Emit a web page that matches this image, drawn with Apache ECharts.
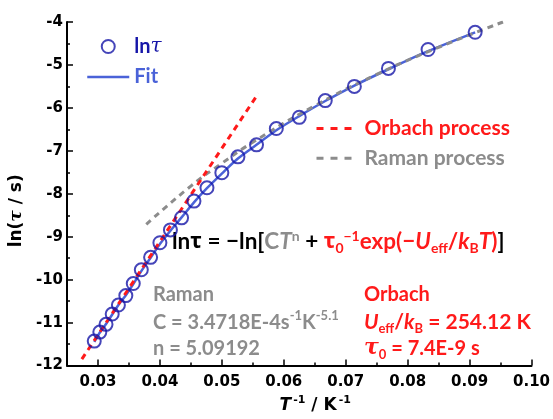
<!DOCTYPE html>
<html>
<head>
<meta charset="utf-8">
<script src="https://cdn.jsdelivr.net/npm/echarts@6/dist/echarts.min.js"></script>
<style>
  html, body { margin: 0; padding: 0; background: #fff; }
  #chart { width: 553px; height: 419px; }
</style>
</head>
<body>
<div id="chart"></div>
<script>
// Relaxation data: inverse temperature (1/K) and ln(tau / s)
const invT = [0.0294, 0.0303, 0.0313, 0.0323, 0.0333, 0.0345, 0.0357, 0.0370,
              0.0385, 0.0400, 0.0417, 0.0435, 0.0455, 0.0476, 0.0500, 0.0526,
              0.0556, 0.0588, 0.0625, 0.0667, 0.0714, 0.0769, 0.0833, 0.0909];
const lnTau = [-11.43, -11.22, -11.04, -10.80, -10.59, -10.37, -10.09, -9.77,
               -9.48, -9.14, -8.84, -8.56, -8.17, -7.86, -7.51, -7.14,
               -6.86, -6.48, -6.22, -5.83, -5.50, -5.08, -4.64, -4.24];
// Fitted curve (Raman + Orbach) at the same inverse temperatures
const fitLnTau = [-11.45, -11.23, -11.03, -10.81, -10.59, -10.36, -10.10, -9.80,
                  -9.49, -9.17, -8.86, -8.55, -8.20, -7.87, -7.53, -7.18,
                  -6.86, -6.52, -6.19, -5.84, -5.48, -5.10, -4.68, -4.24];
// Orbach contribution (straight line in ln(tau) vs 1/T)
const orbachX = [0.0274, 0.0559];
const orbachY = [-11.85, -5.66];
// Raman contribution
const ramanX = [0.0378, 0.0450, 0.0498, 0.0550, 0.0650, 0.0750, 0.0850, 0.0954];
const ramanY = [-8.71, -7.82, -7.31, -6.80, -5.95, -5.22, -4.59, -4.00];
// Axis ticks
const xMajorTicks = [0.03, 0.04, 0.05, 0.06, 0.07, 0.08, 0.09, 0.10];
const xRange = [0.025, 0.10];
const yRange = [-12, -4];

const pairs = (xs, ys) => xs.map((x, i) => [x, ys[i]]);

const DARK_BLUE = '#1616a8';
const FIT_BLUE = '#4a62d8';
const RED = '#ff1a1a';
const GRAY = '#8c8c8c';
const CLEAR = 'rgba(0,0,0,0)';
const TICK_FONT = 'DejaVu Sans';
const NOTE_FONT = 'Lato';
const GREEK_FONT = 'Noto Sans';
const SERIF = 'DejaVu Serif';

const chart = echarts.init(document.getElementById('chart'), null, { renderer: 'canvas' });

const tickLabelStyle = {
  color: '#000', fontFamily: TICK_FONT, fontWeight: 'bold', fontSize: 15
};

function sup(fill, size) {
  return { fill: fill, fontFamily: NOTE_FONT, fontWeight: 'bold', fontSize: size || 13, lineHeight: 14, verticalAlign: 'top' };
}
function sub(fill, size) {
  return { fill: fill, fontFamily: NOTE_FONT, fontWeight: 'bold', fontSize: size || 13, lineHeight: 14, verticalAlign: 'bottom' };
}
function base(fill, extra) {
  return Object.assign({ fill: fill, fontFamily: NOTE_FONT, fontWeight: 'bold', fontSize: 20, lineHeight: 26 }, extra || {});
}
// line-only legend entries: hide the marker that line series put in their legend icon
const lineOnly = name => ({ name: name, itemStyle: { color: CLEAR, borderColor: CLEAR, borderWidth: 0 } });

const option = {
  animation: false,
  backgroundColor: '#fff',
  grid: { left: 55.5, right: 20.7, top: 22, bottom: 47.3, containLabel: false },
  xAxis: [
    {
      type: 'value', min: xRange[0], max: xRange[1], interval: 0.005,
      axisLine: { show: true, lineStyle: { color: '#000', width: 2 } },
      axisTick: { show: true, inside: true, length: 3, lineStyle: { color: '#000', width: 1.5 } },
      axisLabel: {
        ...tickLabelStyle, margin: 9,
        formatter: v => (Math.abs(v * 100 - Math.round(v * 100)) < 1e-6 ? v.toFixed(2) : '')
      },
      splitLine: { show: false },
      name: '{t|T}{s|-1}{a| / K}{s|-1}',
      nameLocation: 'middle', nameGap: 27,
      nameTextStyle: {
        padding: [0, 0, 0, 32],
        rich: {
          t: { fontFamily: TICK_FONT, fontWeight: 'bold', fontStyle: 'italic', fontSize: 17, color: '#000', lineHeight: 22 },
          a: { fontFamily: TICK_FONT, fontWeight: 'bold', fontSize: 17, color: '#000', lineHeight: 22 },
          s: { fontFamily: TICK_FONT, fontWeight: 'bold', fontSize: 11, color: '#000', lineHeight: 12, verticalAlign: 'top', padding: [0, 0, 0, 2] }
        }
      }
    },
    {
      type: 'value', min: xRange[0], max: xRange[1], position: 'bottom',
      axisLine: { show: false },
      axisLabel: { show: false },
      axisTick: { show: true, inside: true, length: 6, customValues: xMajorTicks, lineStyle: { color: '#000', width: 1.5 } },
      splitLine: { show: false }
    }
  ],
  yAxis: {
    type: 'value', min: yRange[0], max: yRange[1], interval: 1,
    axisLine: { show: true, lineStyle: { color: '#000', width: 2 } },
    axisTick: { show: true, inside: true, length: 6, lineStyle: { color: '#000', width: 1.5 } },
    minorTick: { show: true, splitNumber: 2, length: 3, lineStyle: { color: '#000', width: 1.5 } },
    axisLabel: { ...tickLabelStyle, margin: 4 },
    splitLine: { show: false },
    name: '{a|ln(}{t|τ}{a| / s)}',
    nameLocation: 'middle', nameRotate: 90, nameGap: 28,
    nameTextStyle: {
      padding: [0, 34, 0, 0],
      rich: {
        a: { fontFamily: TICK_FONT, fontWeight: 'bold', fontSize: 17, color: '#000' },
        t: { fontFamily: SERIF, fontStyle: 'italic', fontWeight: 'bold', fontSize: 17, color: '#000' }
      }
    }
  },
  legend: [
    {
      orient: 'vertical', left: 86, top: 36.5, padding: 0,
      itemWidth: 42, itemHeight: 13, itemGap: 10.5,
      selectedMode: false,
      data: ['lnτ', lineOnly('Fit')],
      lineStyle: { width: 2.5 },
      itemStyle: { borderWidth: 2 },
      formatter: n => (n === 'lnτ' ? '{b|ln}{t|τ}' : '{f|Fit}'),
      textStyle: {
        rich: {
          b: { fontFamily: NOTE_FONT, fontWeight: 'bold', fontSize: 20, color: DARK_BLUE, lineHeight: 20 },
          t: { fontFamily: SERIF, fontStyle: 'italic', fontSize: 20, color: DARK_BLUE, lineHeight: 20 },
          f: { fontFamily: NOTE_FONT, fontWeight: 'bold', fontSize: 20, color: FIT_BLUE, lineHeight: 20 }
        }
      }
    },
    {
      orient: 'vertical', left: 315, top: 118, padding: 0,
      itemWidth: 35, itemHeight: 12, itemGap: 8.7,
      selectedMode: false,
      data: [lineOnly('Orbach process'), lineOnly('Raman process')],
      lineStyle: { width: 3, type: [7, 7] },
      formatter: n => (n === 'Orbach process' ? '{o|' + n + '}' : '{r|' + n + '}'),
      textStyle: {
        rich: {
          o: { fontFamily: NOTE_FONT, fontWeight: 'bold', fontSize: 21, color: RED, lineHeight: 20, padding: [0, 0, 0, 8] },
          r: { fontFamily: NOTE_FONT, fontWeight: 'bold', fontSize: 21, color: GRAY, lineHeight: 20, padding: [0, 0, 0, 8] }
        }
      }
    }
  ],
  series: [
    {
      name: 'Fit', type: 'line', data: pairs(invT, fitLnTau),
      showSymbol: false, symbol: 'none', smooth: 0.3, z: 2,
      lineStyle: { color: FIT_BLUE, width: 2.5 },
      itemStyle: { color: FIT_BLUE }
    },
    {
      name: 'Raman process', type: 'line', data: pairs(ramanX, ramanY),
      showSymbol: false, symbol: 'none', smooth: true, z: 3,
      lineStyle: { color: GRAY, width: 3, type: [6, 5] },
      itemStyle: { color: GRAY }
    },
    {
      name: 'Orbach process', type: 'line', data: pairs(orbachX, orbachY),
      showSymbol: false, symbol: 'none', z: 4,
      lineStyle: { color: RED, width: 3, type: [6, 5] },
      itemStyle: { color: RED }
    },
    {
      name: 'lnτ', type: 'scatter', data: pairs(invT, lnTau),
      symbol: 'circle', symbolSize: 13, z: 5,
      itemStyle: { color: CLEAR, borderColor: DARK_BLUE, borderWidth: 2 }
    }
  ],
  graphic: [
    {
      type: 'text', x: 172, y: 242, silent: true,
      style: {
        textVerticalAlign: 'middle', verticalAlign: 'middle',
        text: '{k|ln}{kg|τ}{k| = −ln[}{g|C}{gi|T}{gs|n}{k| + }{rg|τ}{rsub|0}{rsup|−1}{r|exp(−}{ri|U}{rsub|eff}{r|/}{ri|k}{rsub|B}{ri|T}{r|)}{k|]}',
        rich: {
          k: base('#000', { fontSize: 22.5 }),
          kg: base('#000', { fontFamily: GREEK_FONT, fontSize: 21.5 }),
          g: base(GRAY, { fontSize: 22.5 }),
          gi: base(GRAY, { fontStyle: 'italic', fontSize: 22.5 }),
          gs: sup(GRAY, 14),
          r: base(RED, { fontSize: 22.5 }),
          rg: base(RED, { fontFamily: GREEK_FONT, fontSize: 21.5 }),
          ri: base(RED, { fontStyle: 'italic', fontSize: 22.5 }),
          rsub: sub(RED, 14),
          rsup: sup(RED, 14)
        }
      }
    },
    // Raman parameters
    { type: 'text', x: 153, y: 295, silent: true,
      style: { text: '{g|Raman}', textVerticalAlign: 'middle', verticalAlign: 'middle', rich: { g: base(GRAY) } } },
    { type: 'text', x: 153, y: 322.5, silent: true,
      style: { text: '{g|C = 3.4718E-4s}{s|-1}{g|K}{s|-5.1}', textVerticalAlign: 'middle', verticalAlign: 'middle',
               rich: { g: base(GRAY), s: sup(GRAY) } } },
    { type: 'text', x: 153, y: 348.5, silent: true,
      style: { text: '{g|n = 5.09192}', textVerticalAlign: 'middle', verticalAlign: 'middle', rich: { g: base(GRAY) } } },
    // Orbach parameters
    { type: 'text', x: 364, y: 295, silent: true,
      style: { text: '{r|Orbach}', textVerticalAlign: 'middle', verticalAlign: 'middle', rich: { r: base(RED) } } },
    { type: 'text', x: 364, y: 322.5, silent: true,
      style: { text: '{ri|U}{s|eff}{r|/}{ri|k}{s|B}{r| = 254.12 K}', textVerticalAlign: 'middle', verticalAlign: 'middle',
               rich: { r: base(RED, { fontSize: 21 }), ri: base(RED, { fontStyle: 'italic', fontSize: 21 }), s: sub(RED) } } },
    { type: 'text', x: 364, y: 348.5, silent: true,
      style: { text: '{t|τ}{s|0}{r| = 7.4E-9 s}', textVerticalAlign: 'middle', verticalAlign: 'middle',
               rich: { r: base(RED), t: base(RED, { fontFamily: SERIF, fontStyle: 'italic', fontSize: 22 }), s: sub(RED) } } }
  ]
};

chart.setOption(option);
</script>
</body>
</html>
